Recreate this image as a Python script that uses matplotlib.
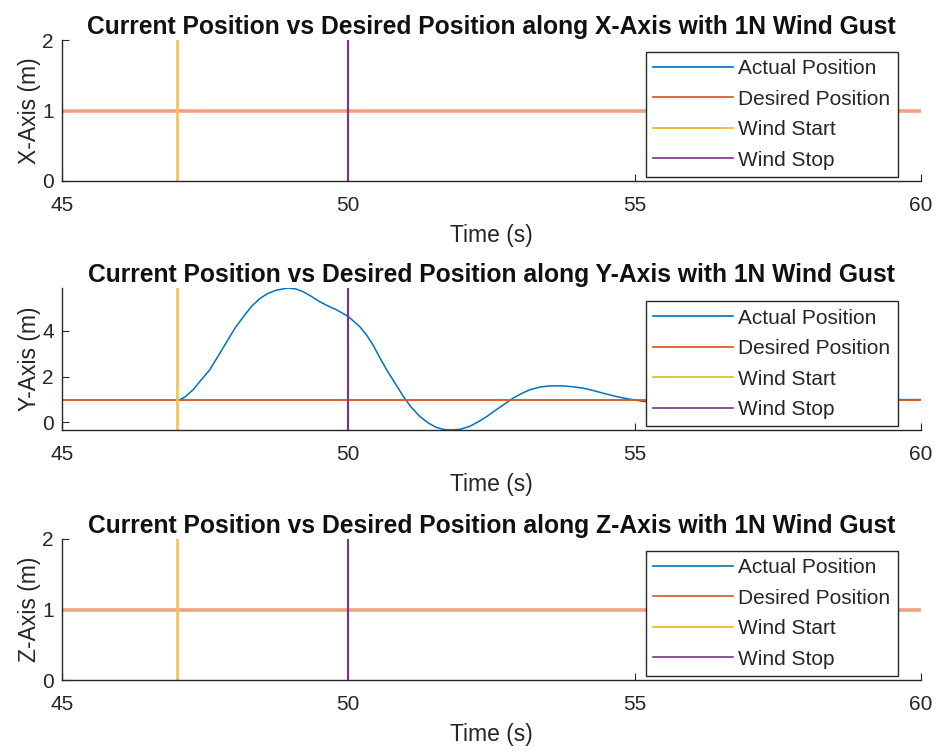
import matplotlib
matplotlib.use('Agg')
import matplotlib.pyplot as plt
from matplotlib.lines import Line2D

plt.rcParams['font.family'] = ['Liberation Sans', 'DejaVu Sans']

# MATLAB default colours
c_actual = '#0072BD'
c_desired = '#D95319'
c_desired_wide = '#EFA282'
c_start = '#EDB120'
c_stop = '#7E2F8E'
dark = '#262626'

axis_names = ['X', 'Y', 'Z']
x_ticks = [45, 50, 55, 60]
wind_start = 47
wind_stop = 50
desired = 1.0

# actual position along Y
t_y = [47.06, 47.15, 47.29, 47.42, 47.58, 47.73, 47.88, 48.02, 48.17, 48.31,
       48.46, 48.60, 48.75, 48.95, 49.08, 49.21, 49.35, 49.50, 49.65, 49.80,
       50.00, 50.20, 50.32, 50.44, 50.55, 50.67, 50.82, 50.96, 51.10, 51.25,
       51.40, 51.54, 51.67, 51.80, 51.95, 52.12, 52.27, 52.42, 52.56, 52.71,
       52.88, 53.02, 53.17, 53.35, 53.52, 53.75, 53.92, 54.10, 54.27, 54.45,
       54.62, 54.80, 55.15, 55.80, 56.50, 57.50, 58.50, 59.50, 60.00]
y_act = [1.00, 1.12, 1.43, 1.83, 2.30, 2.92, 3.54, 4.12, 4.63, 5.08,
         5.43, 5.65, 5.79, 5.88, 5.84, 5.72, 5.52, 5.28, 5.09, 4.92,
         4.63, 4.19, 3.82, 3.35, 2.83, 2.30, 1.70, 1.14, 0.66, 0.26,
         -0.03, -0.22, -0.31, -0.33, -0.30, -0.17, 0.03, 0.26, 0.52, 0.77,
         1.07, 1.26, 1.43, 1.55, 1.60, 1.60, 1.56, 1.50, 1.40, 1.28,
         1.17, 1.07, 0.92, 0.86, 0.89, 0.95, 0.99, 1.00, 1.00]

fig = plt.figure(figsize=(9.39, 7.53), dpi=100)
tops = [40, 288, 539]
bots = [181, 430, 680]
H = 753.0
W = 939.0

for i, name in enumerate(axis_names):
    ax = fig.add_axes([62 / W, 1 - bots[i] / H, 859 / W, (bots[i] - tops[i]) / H])
    if name == 'Y':
        ax.plot(t_y, y_act, color=c_actual, lw=1.1)
        ax.axhline(desired, color=c_desired, lw=1.3)
        ax.set_ylim(min(y_act), max(y_act))
        ax.set_yticks([0, 2, 4])
    else:
        # actual position sits under the set point line here
        ax.axhline(desired, color=c_desired_wide, lw=2.6)
        ax.set_ylim(0, 2)
        ax.set_yticks([0, 1, 2])
    ax.axvline(wind_start, color='#F3C55C', lw=2.0)
    ax.axvline(wind_stop, color=c_stop, lw=1.5)
    ax.set_xlim(45, 60)
    ax.set_xticks(x_ticks)

    for s in ['top', 'right']:
        ax.spines[s].set_visible(False)
    for s in ['left', 'bottom']:
        ax.spines[s].set_color(dark)
        ax.spines[s].set_linewidth(1.0)
    ax.tick_params(direction='in', length=5, width=0.8, colors=dark,
                   labelsize=15, pad=11)
    ax.tick_params(axis='y', pad=6)

    ax.set_title('Current Position vs Desired Position along %s-Axis with 1N Wind Gust' % name,
                 fontsize=17.7, fontweight='bold', color='#111111', pad=4)
    ax.set_xlabel('Time (s)', fontsize=16.5, color=dark, labelpad=6)
    ax.set_ylabel('%s-Axis (m)' % name, fontsize=16.5, color=dark, labelpad=1)

    handles = [Line2D([], [], color=c_actual, lw=1.2),
               Line2D([], [], color=c_desired, lw=1.2),
               Line2D([], [], color=c_start, lw=1.2),
               Line2D([], [], color=c_stop, lw=1.2)]
    leg = ax.legend(handles, ['Actual Position', 'Desired Position', 'Wind Start', 'Wind Stop'],
                    loc='upper right', bbox_to_anchor=(0.973, 0.915 if name != 'Y' else 0.905),
                    fontsize=15, fancybox=False, framealpha=1, edgecolor=dark,
                    handlelength=3.85, handletextpad=0.25, labelspacing=0.55,
                    borderpad=0.35, borderaxespad=0)
    leg.get_frame().set_linewidth(1.0)
    for txt in leg.get_texts():
        txt.set_color(dark)

fig.savefig('out.png', dpi=100)
